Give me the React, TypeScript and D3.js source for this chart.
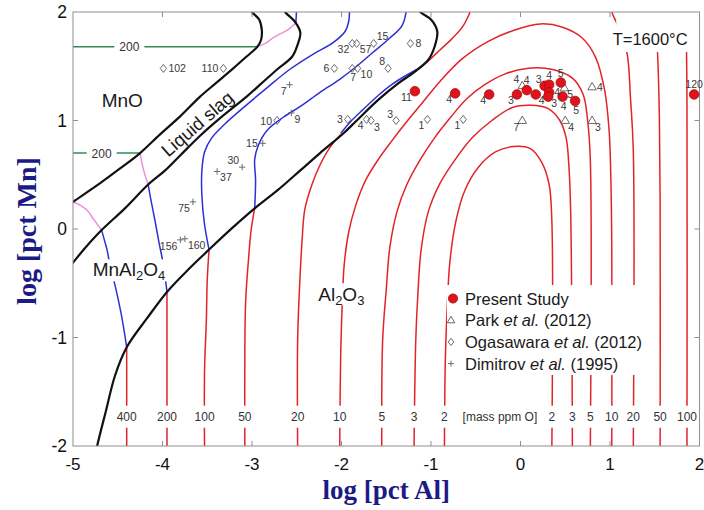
import React from "react";
import * as d3 from "d3";

type Pt = [number, number];
type Mark = [number, number, string];

// ---- axes -------------------------------------------------------------
const X_DOMAIN: [number, number] = [-5, 2];
const Y_DOMAIN: [number, number] = [-2, 2];
const X_TICKS = [-5, -4, -3, -2, -1, 0, 1, 2];
const Y_TICKS = [-2, -1, 0, 1, 2];

// ---- phase boundaries (log[pct Al], log[pct Mn]) -----------------------
const mnoSlagBoundary: Pt[] = [
  [-3.03, 2.05], [-3.0, 2.0], [-2.92, 1.93], [-2.89, 1.83], [-2.9, 1.74], [-2.94, 1.68],
  [-3.06, 1.59], [-3.21, 1.48], [-3.41, 1.34], [-3.58, 1.22], [-3.8, 1.04], [-4.03, 0.87],
  [-4.25, 0.7], [-4.47, 0.56], [-4.7, 0.42], [-5.0, 0.25], [-5.05, 0.22],
];
const slagSpinelBoundary: Pt[] = [
  [-2.66, 2.05], [-2.63, 2.0], [-2.52, 1.91], [-2.46, 1.81], [-2.49, 1.7], [-2.55, 1.59],
  [-2.72, 1.47], [-2.91, 1.33], [-3.06, 1.22], [-3.36, 1.02], [-3.58, 0.86], [-3.8, 0.68],
  [-3.97, 0.54], [-4.16, 0.41], [-4.42, 0.19], [-4.68, -0.01], [-4.87, -0.18], [-5.0, -0.31],
  [-5.05, -0.36],
];
const spinelAluminaBoundary: Pt[] = [
  [-1.16, 2.05], [-1.12, 2.0], [-1.0, 1.93], [-0.93, 1.82], [-0.96, 1.68], [-1.03, 1.56],
  [-1.18, 1.45], [-1.37, 1.34], [-1.59, 1.19], [-1.83, 1.0], [-1.98, 0.88], [-2.24, 0.7],
  [-2.46, 0.54], [-2.71, 0.36], [-2.97, 0.19], [-3.22, 0.01], [-3.48, -0.19], [-3.72, -0.38],
  [-3.95, -0.58], [-4.17, -0.82], [-4.4, -1.09], [-4.53, -1.35], [-4.63, -1.67], [-4.73, -2.0],
  [-4.74, -2.05],
];

// ---- iso-oxygen lines, mass ppm O --------------------------------------
// Al2O3 field
const al400: Pt[] = [[-4.4, -1.09], [-4.4, -1.6], [-4.4, -2.05]];
const al200: Pt[] = [[-3.95, -0.58], [-3.95, -1.3], [-3.95, -2.05]];
const al100: Pt[] = [[-3.48, -0.19], [-3.5, -0.47], [-3.51, -0.84], [-3.53, -1.3], [-3.53, -2.05]];
const al50: Pt[] = [[-2.97, 0.19], [-3.01, -0.01], [-3.04, -0.29], [-3.07, -0.65], [-3.08, -1.12], [-3.08, -2.05]];
const al20: Pt[] = [
  [-2.01, 0.87], [-2.13, 0.75], [-2.24, 0.59], [-2.33, 0.41], [-2.41, 0.18], [-2.44, -0.1],
  [-2.47, -0.56], [-2.49, -1.02], [-2.49, -2.05],
];
const al20Upper: Pt[] = [[-1.16, 1.47], [-1.03, 1.55], [-0.9, 1.65], [-0.77, 1.75], [-0.65, 1.86], [-0.59, 1.95], [-0.54, 2.05]];
const al20Right: Pt[] = [[1.01, 2.05], [1.03, 1.98], [1.08, 1.89], [1.13, 1.76], [1.19, 1.62], [1.23, 1.19], [1.26, 0.73], [1.26, -2.05]];
const al50Right: Pt[] = [[1.5, 2.05], [1.53, 1.65], [1.55, 1.1], [1.56, 0.27], [1.56, -2.05]];
const al100Right: Pt[] = [[1.85, 2.05], [1.86, 1.19], [1.86, -2.05]];
const al10: Pt[] = [
  [-2.02, -2.05], [-2.01, -1.21], [-1.99, -0.65], [-1.97, -0.33], [-1.92, -0.03], [-1.84, 0.22],
  [-1.73, 0.45], [-1.59, 0.64], [-1.44, 0.81], [-1.29, 0.97], [-1.12, 1.14], [-0.9, 1.36],
  [-0.65, 1.57], [-0.36, 1.73], [-0.08, 1.83], [0.22, 1.89], [0.47, 1.86], [0.69, 1.76],
  [0.84, 1.58], [0.94, 1.28], [0.99, 0.91], [1.01, 0.45], [1.02, -0.19], [1.02, -2.05],
];
const al5: Pt[] = [
  [-1.55, -2.05], [-1.54, -1.02], [-1.5, -0.56], [-1.46, -0.17], [-1.38, 0.16], [-1.27, 0.41],
  [-1.12, 0.64], [-0.96, 0.84], [-0.79, 1.02], [-0.6, 1.2], [-0.4, 1.33], [-0.17, 1.43],
  [0.07, 1.48], [0.36, 1.47], [0.58, 1.39], [0.7, 1.24], [0.75, 1.0], [0.78, 0.64], [0.78, -2.05],
];
const al3: Pt[] = [
  [-1.19, -2.05], [-1.17, -1.02], [-1.15, -0.65], [-1.11, -0.19], [-1.03, 0.16], [-0.9, 0.42],
  [-0.73, 0.64], [-0.54, 0.84], [-0.32, 1.0], [-0.09, 1.12], [0.11, 1.14], [0.31, 1.11],
  [0.44, 1.0], [0.51, 0.84], [0.54, 0.59], [0.56, 0.18], [0.58, -2.05],
];
const al2: Pt[] = [
  [-0.85, -2.05], [-0.84, -1.21], [-0.82, -0.75], [-0.79, -0.31], [-0.72, 0.08], [-0.62, 0.36],
  [-0.47, 0.57], [-0.28, 0.71], [-0.08, 0.76], [0.11, 0.74], [0.24, 0.61], [0.32, 0.41],
  [0.35, 0.08], [0.35, -2.05],
];

// MnAl2O4 field
const sp400: Pt[] = [[-4.68, -0.01], [-4.65, -0.1], [-4.62, -0.19], [-4.58, -0.36], [-4.53, -0.52], [-4.46, -0.79], [-4.4, -1.09]];
const sp200: Pt[] = [[-4.16, 0.41], [-4.13, 0.27], [-4.08, 0.06], [-4.04, -0.12], [-3.99, -0.33], [-3.95, -0.58]];
const sp100: Pt[] = [
  [-3.48, -0.19], [-3.53, 0.04], [-3.56, 0.31], [-3.56, 0.54], [-3.53, 0.71], [-3.45, 0.84],
  [-3.3, 0.97], [-3.08, 1.13], [-2.82, 1.31], [-2.58, 1.47], [-2.32, 1.61], [-2.09, 1.72],
  [-1.96, 1.82], [-1.92, 1.91], [-1.91, 2.05],
];
const sp50: Pt[] = [
  [-2.97, 0.19], [-2.96, 0.45], [-2.97, 0.64], [-2.93, 0.77], [-2.83, 0.91], [-2.65, 1.03],
  [-2.46, 1.13], [-2.24, 1.26], [-2.02, 1.38], [-1.83, 1.5], [-1.66, 1.62], [-1.46, 1.76],
  [-1.32, 1.88], [-1.27, 2.05],
];
const sp20: Pt[] = [[-2.01, 0.88], [-1.91, 0.98], [-1.76, 1.1], [-1.59, 1.23], [-1.44, 1.33], [-1.29, 1.41], [-1.16, 1.47]];
const spUpper: Pt[] = [[-2.51, 1.9], [-2.5, 2.05]];

// liquid slag field
const sl400: Pt[] = [[-5.0, 0.25], [-4.92, 0.22], [-4.84, 0.17], [-4.77, 0.09], [-4.68, -0.01]];
const sl200: Pt[] = [[-4.25, 0.7], [-4.23, 0.61], [-4.2, 0.51], [-4.16, 0.41]];
const slUpper: Pt[] = [[-2.94, 1.68], [-2.85, 1.71], [-2.77, 1.76], [-2.68, 1.8], [-2.59, 1.84], [-2.51, 1.9]];

// MnO field
const mno200Lower: Pt[] = [[-5.05, 0.7], [-4.25, 0.7]];
const mno200Upper: Pt[] = [[-5.05, 1.68], [-2.94, 1.68]];
const mnoLabelAl = [-4.68, -4.37]; // where the "200" tags sit on the two MnO lines
const mnoLabelPpm = [200, 200];

const aluminaLines = [
  { ppm: 400, pts: al400 }, { ppm: 200, pts: al200 }, { ppm: 100, pts: al100 },
  { ppm: 50, pts: al50 }, { ppm: 20, pts: al20 }, { ppm: 10, pts: al10 },
  { ppm: 5, pts: al5 }, { ppm: 3, pts: al3 }, { ppm: 2, pts: al2 },
  { ppm: 20, pts: al20Upper }, { ppm: 20, pts: al20Right }, { ppm: 50, pts: al50Right },
  { ppm: 100, pts: al100Right },
];
const spinelLines = [sp400, sp200, sp100, sp50, sp20, spUpper];
const slagLines = [sl400, sl200, slUpper];
const mnoLines = [mno200Lower, mno200Upper];

// ---- measured points ----------------------------------------------------
const presentStudy: Mark[] = [
  [-1.18, 1.27, "11"], [-0.73, 1.25, "4"], [-0.35, 1.24, "4"], [-0.04, 1.24, "3"],
  [0.07, 1.28, "4"], [0.17, 1.24, "4"], [0.27, 1.32, "3"], [0.32, 1.33, "4"],
  [0.32, 1.26, "4"], [0.31, 1.22, "3"], [0.45, 1.35, "5"], [0.47, 1.22, "4"],
  [0.61, 1.18, "5"], [1.94, 1.24, "120"],
];
const presentStudyTag = ["sw", "sw", "sw", "sw", "n", "se", "nw", "n", "e", "se", "n", "s", "s", "n"];

const park2012: Mark[] = [
  [0.02, 1.32, "4"], [0.49, 1.3, "5"], [0.8, 1.31, "4"],
  [0.02, 1.0, "7"], [0.5, 1.0, "4"], [0.8, 1.0, "3"],
];
const park2012Tag = ["nw", "se", "e", "sw", "se", "se"];

const ogasawara2012: Mark[] = [
  [-3.99, 1.48, "102"], [-3.32, 1.48, "110"], [-2.08, 1.48, "6"], [-1.88, 1.71, "32"],
  [-1.83, 1.71, "57"], [-1.64, 1.71, "15"], [-1.88, 1.48, "7"], [-1.82, 1.48, "10"],
  [-1.48, 1.48, "8"], [-1.23, 1.71, "8"], [-2.72, 1.0, "10"], [-1.93, 1.01, "3"],
  [-1.72, 1.01, "4"], [-1.67, 1.0, "3"], [-1.39, 1.0, "3"], [-1.04, 1.01, "1"],
  [-0.64, 1.01, "1"],
];
const ogasawara2012Tag = ["e", "w", "w", "sw", "se", "ne", "s", "se", "nw", "e", "w", "w", "sw", "se", "nw", "sw", "sw"];

const dimitrov1995: Mark[] = [
  [-2.58, 1.33, "7"], [-2.56, 1.07, "9"], [-2.88, 0.79, "15"], [-3.11, 0.57, "30"],
  [-3.39, 0.53, "37"], [-3.66, 0.25, "75"], [-3.8, -0.1, "156"], [-3.75, -0.09, "160"],
];
const dimitrov1995Tag = ["sw", "se", "w", "nw", "se", "sw", "sw", "se"];

const legendNames = [
  ["Present Study", "", ""],
  ["Park ", "et al.", " (2012)"],
  ["Ogasawara ", "et al.", " (2012)"],
  ["Dimitrov ", "et al.", " (1995)"],
];

// ---- styling -------------------------------------------------------------
const SANS = "'Liberation Sans', Arial, Helvetica, sans-serif";
const SERIF = "'Liberation Serif', 'Times New Roman', serif";
const RED = "#e3232a";
const BLUE = "#2f2fd6";
const PINK = "#ee8fdc";
const GREEN = "#2e8b57";
const MARK = "#6a6a6a";
const TITLE = "#1b1b84";

const PLOT = { left: 73, right: 699.5, top: 12, bottom: 446 };

const TAG: Record<string, { dx: number; dy: number; a: "start" | "middle" | "end" }> = {
  n: { dx: 0, dy: -6, a: "middle" },
  s: { dx: 1, dy: 13, a: "middle" },
  e: { dx: 5, dy: 4, a: "start" },
  w: { dx: -5, dy: 4, a: "end" },
  ne: { dx: 3, dy: -3, a: "start" },
  nw: { dx: -3, dy: -3, a: "end" },
  se: { dx: 3, dy: 10, a: "start" },
  sw: { dx: -3, dy: 10, a: "end" },
};

const trianglePath = (r: number) => `M0,${-r}L${r * 0.95},${r * 0.65}L${-r * 0.95},${r * 0.65}Z`;
const diamondPath = (r: number) => `M0,${-r}L${r * 0.8},0L0,${r}L${-r * 0.8},0Z`;
const plusPath = (r: number) => `M${-r},0H${r}M0,${-r}V${r}`;

export default function App() {
  const x = d3.scaleLinear().domain(X_DOMAIN).range([PLOT.left, PLOT.right]);
  const y = d3.scaleLinear().domain(Y_DOMAIN).range([PLOT.bottom, PLOT.top]);
  const line = d3
    .line<Pt>()
    .x((d) => x(d[0]))
    .y((d) => y(d[1]))
    .curve(d3.curveCatmullRom.alpha(0.5));

  // ppm tags at the foot of every Al2O3-field line
  const footTags: { px: number; ppm: number }[] = [];
  aluminaLines.forEach((c) => {
    const ends = [c.pts[0], c.pts[c.pts.length - 1]];
    ends.forEach((p) => {
      if (p[1] <= Y_DOMAIN[0]) footTags.push({ px: x(p[0]), ppm: c.ppm });
    });
  });
  const footY = y(-1.73);

  const renderTags = (marks: Mark[], tags: string[]) =>
    marks.map((m, i) => {
      const t = TAG[tags[i]];
      return (
        <text
          key={`t${i}`}
          x={x(m[0]) + t.dx}
          y={y(m[1]) + t.dy}
          textAnchor={t.a}
          fontSize={10.5}
          fill="#3a3a3a"
          fontFamily={SANS}
        >
          {m[2]}
        </text>
      );
    });

  const legendX = 451;
  const legendY0 = 298.5;
  const legendStep = 21.7;

  return (
    <svg
      width={704}
      height={510}
      style={{ position: "absolute", left: 0, top: 0, background: "#fff" }}
      fontFamily={SANS}
    >
      <defs>
        <clipPath id="plotArea">
          <rect x={PLOT.left} y={PLOT.top} width={PLOT.right - PLOT.left} height={PLOT.bottom - PLOT.top} />
        </clipPath>
      </defs>
      <rect x={0} y={0} width={704} height={510} fill="#fff" />

      <g clipPath="url(#plotArea)">
        {/* iso-oxygen lines */}
        {aluminaLines.map((c, i) => (
          <path key={`al${i}`} d={line(c.pts) || ""} fill="none" stroke={RED} strokeWidth={1.5} />
        ))}
        {spinelLines.map((c, i) => (
          <path key={`sp${i}`} d={line(c) || ""} fill="none" stroke={BLUE} strokeWidth={1.5} />
        ))}
        {slagLines.map((c, i) => (
          <path key={`sl${i}`} d={line(c) || ""} fill="none" stroke={PINK} strokeWidth={1.5} />
        ))}
        {mnoLines.map((c, i) => (
          <path key={`mn${i}`} d={line(c) || ""} fill="none" stroke={GREEN} strokeWidth={1.6} />
        ))}

        {/* blank backgrounds behind in-plot text */}
        {footTags.map((t, i) => (
          <rect key={`fb${i}`} x={t.px - 10} y={footY - 11} width={20} height={22} fill="#fff" />
        ))}
        {mnoLabelAl.map((a, i) => (
          <rect key={`mb${i}`} x={x(a) - 15} y={y(mnoLines[i][0][1]) - 7} width={30} height={14} fill="#fff" />
        ))}
        <rect x={x(-4.79)} y={y(-0.28)} width={78} height={22} fill="#fff" />
        <rect x={x(-2.28)} y={y(-0.5)} width={52} height={22} fill="#fff" />
        <rect x={x(1.07)} y={PLOT.top} width={PLOT.right - x(1.07) - 1} height={40} fill="#fff" />
        <rect x={447} y={285} width={204} height={90} fill="#fff" />

        {/* phase boundaries */}
        {[mnoSlagBoundary, slagSpinelBoundary, spinelAluminaBoundary].map((b, i) => (
          <path key={`b${i}`} d={line(b) || ""} fill="none" stroke="#111" strokeWidth={2.2} />
        ))}
      </g>

      {/* frame and ticks */}
      <rect
        x={PLOT.left}
        y={PLOT.top}
        width={PLOT.right - PLOT.left}
        height={PLOT.bottom - PLOT.top}
        fill="none"
        stroke="#8f8f8f"
        strokeWidth={1}
      />
      {X_TICKS.slice(1, -1).map((t) => (
        <g key={`xt${t}`} stroke="#8f8f8f">
          <line x1={x(t)} x2={x(t)} y1={PLOT.bottom} y2={PLOT.bottom - 5} />
          <line x1={x(t)} x2={x(t)} y1={PLOT.top} y2={PLOT.top + 5} />
        </g>
      ))}
      {Y_TICKS.slice(1, -1).map((t) => (
        <g key={`yt${t}`} stroke="#8f8f8f">
          <line x1={PLOT.left} x2={PLOT.left + 5} y1={y(t)} y2={y(t)} />
          <line x1={PLOT.right} x2={PLOT.right - 5} y1={y(t)} y2={y(t)} />
        </g>
      ))}
      {X_TICKS.map((t) => (
        <text key={`xl${t}`} x={x(t)} y={470} textAnchor="middle" fontSize={17} fill="#111">
          {t}
        </text>
      ))}
      {Y_TICKS.map((t) => (
        <text key={`yl${t}`} x={67} y={y(t) + 6} textAnchor="end" fontSize={17.5} fill="#111">
          {t}
        </text>
      ))}

      {/* axis titles */}
      <text x={(PLOT.left + PLOT.right) / 2} y={499} textAnchor="middle" fontFamily={SERIF} fontWeight="bold" fontSize={27} fill={TITLE}>
        log [pct Al]
      </text>
      <text
        transform={`translate(36,${(PLOT.top + PLOT.bottom) / 2 + 2}) rotate(-90)`}
        textAnchor="middle"
        fontFamily={SERIF}
        fontWeight="bold"
        fontSize={28}
        fill={TITLE}
      >
        log [pct Mn]
      </text>

      {/* ppm tags */}
      {footTags.map((t, i) => (
        <text key={`ft${i}`} x={t.px} y={footY + 4.5} textAnchor="middle" fontSize={12} fill="#333">
          {t.ppm}
        </text>
      ))}
      <text x={x(-0.23)} y={footY + 4.5} textAnchor="middle" fontSize={12} fill="#333">
        [mass ppm O]
      </text>
      {mnoLabelAl.map((a, i) => (
        <text key={`ml${i}`} x={x(a)} y={y(mnoLines[i][0][1]) + 4.5} textAnchor="middle" fontSize={12} fill="#333">
          {mnoLabelPpm[i]}
        </text>
      ))}

      {/* phase field names */}
      <text x={x(-4.68)} y={y(1.12)} fontSize={19} fill="#1a1a1a">MnO</text>
      <text
        transform={`translate(${x(-3.61)},${y(0.97)}) rotate(-41)`}
        textAnchor="middle"
        dominantBaseline="central"
        fontSize={18.5}
        fill="#1a1a1a"
      >
        Liquid slag
      </text>
      <text x={x(-4.78)} y={y(-0.43)} fontSize={19} fill="#1a1a1a">
        MnAl<tspan fontSize={13} dy={4}>2</tspan>
        <tspan dy={-4}>O</tspan>
        <tspan fontSize={13} dy={4}>4</tspan>
      </text>
      <text x={x(-2.26)} y={y(-0.66)} fontSize={19} fill="#1a1a1a">
        Al<tspan fontSize={13} dy={4}>2</tspan>
        <tspan dy={-4}>O</tspan>
        <tspan fontSize={13} dy={4}>3</tspan>
      </text>
      <text x={x(1.03)} y={y(1.70)} fontSize={16.5} fill="#1a1a1a">T=1600°C</text>

      {/* literature data */}
      <g fill="none" stroke={MARK} strokeWidth={1}>
        {park2012.map((m, i) => (
          <path key={`pk${i}`} d={trianglePath(4.5)} transform={`translate(${x(m[0])},${y(m[1])})`} />
        ))}
        {ogasawara2012.map((m, i) => (
          <path key={`og${i}`} d={diamondPath(4)} transform={`translate(${x(m[0])},${y(m[1])})`} />
        ))}
        {dimitrov1995.map((m, i) => (
          <path key={`dm${i}`} d={plusPath(3.2)} transform={`translate(${x(m[0])},${y(m[1])})`} />
        ))}
      </g>
      {renderTags(park2012, park2012Tag)}
      {renderTags(ogasawara2012, ogasawara2012Tag)}
      {renderTags(dimitrov1995, dimitrov1995Tag)}

      {/* this work */}
      {presentStudy.map((m, i) => (
        <circle key={`ps${i}`} cx={x(m[0])} cy={y(m[1])} r={4.8} fill="#e0121b" stroke="#a70d12" strokeWidth={0.8} />
      ))}
      {renderTags(presentStudy, presentStudyTag)}

      {/* legend */}
      {legendNames.map((n, i) => {
        const cy = legendY0 + i * legendStep;
        return (
          <g key={`lg${i}`}>
            {i === 0 && <circle cx={legendX + 2} cy={cy} r={4.6} fill="#e0121b" stroke="#a70d12" strokeWidth={0.8} />}
            {i === 1 && <path d={trianglePath(4)} transform={`translate(${legendX},${cy})`} fill="none" stroke={MARK} />}
            {i === 2 && <path d={diamondPath(3.6)} transform={`translate(${legendX},${cy})`} fill="none" stroke={MARK} />}
            {i === 3 && <path d={plusPath(3)} transform={`translate(${legendX},${cy})`} fill="none" stroke={MARK} />}
            <text x={legendX + 14} y={cy + 6} fontSize={16.5} fill="#1a1a1a">
              {n[0]}
              {n[1] && <tspan fontStyle="italic">{n[1]}</tspan>}
              {n[2]}
            </text>
          </g>
        );
      })}
    </svg>
  );
}
